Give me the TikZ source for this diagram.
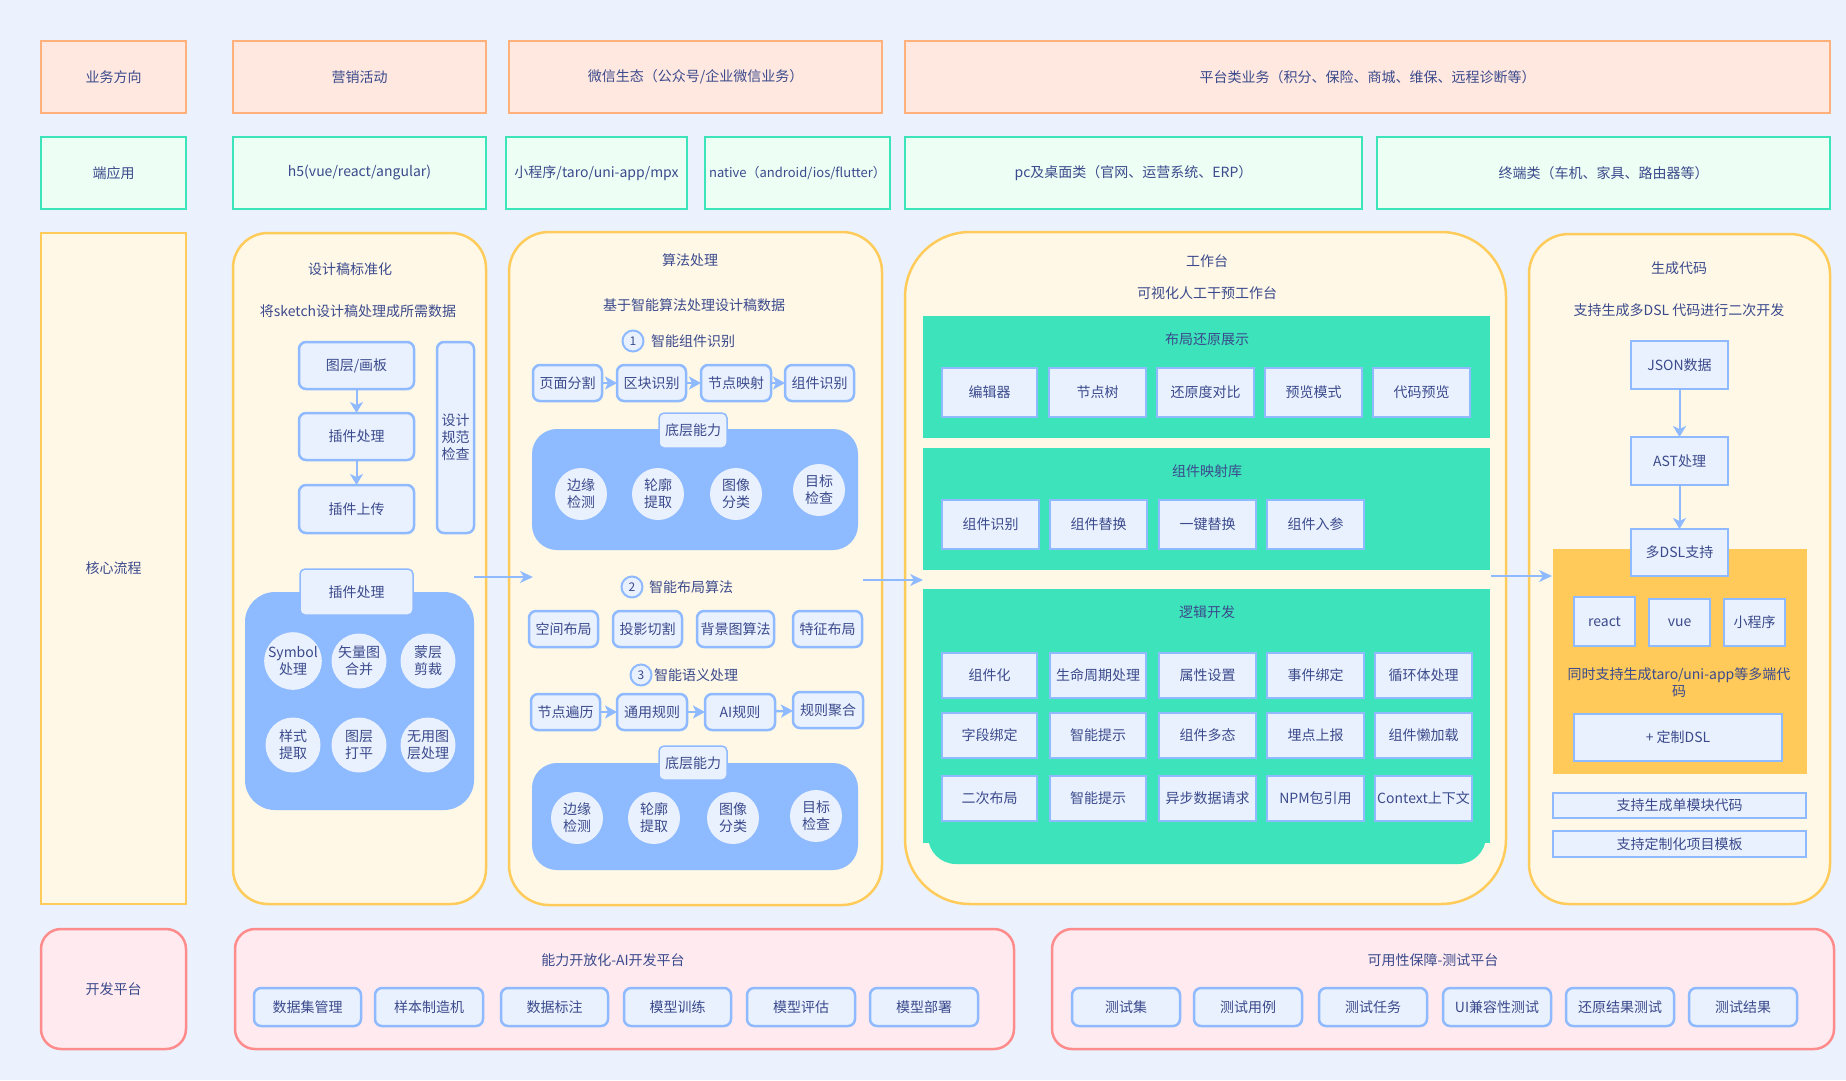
\documentclass[tikz,border=0pt]{standalone}
\usepackage{fontspec}
\setmainfont{Noto Sans CJK SC}
\usetikzlibrary{arrows.meta}
\definecolor{bg}{HTML}{EBF2FD}
\definecolor{orfill}{HTML}{FEE8E0}
\definecolor{ordraw}{HTML}{FFB07B}
\definecolor{grfill}{HTML}{EDFEF4}
\definecolor{grdraw}{HTML}{3CE4BA}
\definecolor{yefill}{HTML}{FFF8E7}
\definecolor{yedraw}{HTML}{FFCC5C}
\definecolor{blfill}{HTML}{EAF1FE}
\definecolor{bldraw}{HTML}{8FBAFF}
\definecolor{blmid}{HTML}{8EBAFF}
\definecolor{teal}{HTML}{3DE3BA}
\definecolor{orpanel}{HTML}{FFCA5A}
\definecolor{pkfill}{HTML}{FFEAEF}
\definecolor{pkdraw}{HTML}{FF8C8C}
\definecolor{txt}{HTML}{3B4A8C}
\tikzset{
  base/.style={inner sep=0pt, outer sep=0pt, text=txt, font=\fontsize{14}{17}\selectfont, align=center},
  lbl/.style={base},
  bizbox/.style={base, fill=orfill, draw=ordraw, line width=2.5pt},
  endbox/.style={base, fill=grfill, draw=grdraw, line width=2.5pt},
  corebox/.style={base, fill=yefill, draw=yedraw, line width=2.5pt},
  cont/.style={base, fill=yefill, draw=yedraw, line width=2.5pt, rounded corners=#1},
  rbox/.style={base, fill=blfill, draw=bldraw, line width=2.5pt, rounded corners=7pt},
  sbox/.style={base, fill=blfill, draw=bldraw, line width=2.5pt},
  tabbox/.style={base, fill=blfill, draw=bldraw, line width=1.5pt, rounded corners=5pt},
  bluepanel/.style={base, fill=blmid, rounded corners=#1},
  tealpanel/.style={base, fill=teal},
  orbox/.style={base, fill=orpanel},
  pinkbox/.style={base, fill=pkfill, draw=pkdraw, line width=2.5pt, rounded corners=20pt},
  dot/.style={base, circle, fill=blfill, minimum size=#1},
  numcirc/.style={base, circle, fill=blfill, draw=bldraw, line width=2pt, minimum size=21pt, font=\fontsize{12}{14}\selectfont},
  flow/.style={draw=bldraw, line width=2.5pt, -{Stealth[length=12pt,width=13pt,inset=3pt]}},
  vflow/.style={draw=bldraw, line width=2pt, -{Stealth[length=11pt,width=13pt,inset=3pt]}},
  link/.style={draw=bldraw, line width=1.6pt, -{Stealth[length=13pt,width=12pt,inset=4pt]}},
}
\newcommand\placebox[7]{\node[#2,minimum width={#5-#3},minimum height={#6-#4}] (#1) at ({(#3+#5)/2},{(#4+#6)/2}) {#7};}
\begin{document}
\begin{tikzpicture}[x=1pt,y=-1pt]
\fill[bg] (0,0) rectangle (1846,1080);
\useasboundingbox (0,0) rectangle (1846,1080);
% row 1
\placebox{biz0}{bizbox}{41}{41}{186}{113}{业务方向}
\placebox{biz1}{bizbox}{233}{41}{486}{113}{营销活动}
\placebox{biz2}{bizbox}{509}{41}{882}{113}{微信生态（公众号/企业微信业务）}
\placebox{biz3}{bizbox}{905}{41}{1830}{113}{平台类业务（积分、保险、商城、维保、远程诊断等）}
% row 2
\placebox{end0}{endbox}{41}{137}{186}{209}{端应用}
\placebox{end1}{endbox}{233}{137}{486}{209}{h5(vue/react/angular)}
\placebox{end2}{endbox}{506}{137}{687}{209}{小程序/taro/uni-app/mpx}
\placebox{end3}{endbox, font=\fontsize{13}{16}\selectfont}{705}{137}{890}{209}{native（android/ios/flutter）}
\placebox{end4}{endbox}{905}{137}{1362}{209}{pc及桌面类（官网、运营系统、ERP）}
\placebox{end5}{endbox}{1377}{137}{1830}{209}{终端类（车机、家具、路由器等）}
% row 3 containers
\placebox{core}{corebox}{41}{233}{186}{904}{核心流程}
\placebox{c1}{cont=35pt}{233}{233}{486}{904}{}
\placebox{c2}{cont=40pt}{509}{232}{882}{905}{}
\placebox{c3}{cont=65pt}{905}{232}{1506}{904}{}
\placebox{c4}{cont=40pt}{1529}{234}{1830}{904}{}
% c1
\node[lbl] (c1t) at (350,269) {设计稿标准化};
\node[lbl] (c1s) at (358,311) {将sketch设计稿处理成所需数据};
\placebox{l1}{rbox}{299}{342}{414}{389}{图层/画板}
\placebox{l2}{rbox}{299}{413}{414}{460}{插件处理}
\placebox{l3}{rbox}{299}{485}{414}{533}{插件上传}
\placebox{chk}{rbox}{437}{342}{474}{533}{设计\\规范\\检查}
\draw[vflow] (l1) -- (l2);
\draw[vflow] (l2) -- (l3);
\placebox{blue1}{bluepanel=30pt}{245}{592}{474}{810}{}
\placebox{tab1}{tabbox}{300}{569}{413}{615}{插件处理}
\node[dot=55pt] (d11) at (293,661) {Symbol\\处理};
\node[dot=55pt] (d12) at (359,661) {矢量图\\合并};
\node[dot=55pt] (d13) at (428,661) {蒙层\\剪裁};
\node[dot=55pt] (d14) at (293,745) {样式\\提取};
\node[dot=55pt] (d15) at (359,745) {图层\\打平};
\node[dot=55pt] (d16) at (428,745) {无用图\\层处理};
% c2
\node[lbl] (c2t) at (690,260) {算法处理};
\node[lbl] (c2s) at (694,305) {基于智能算法处理设计稿数据};
\node[numcirc] (n1) at (633,341) {1};
\node[lbl, anchor=west] (n1t) at (651,341) {智能组件识别};
\placebox{a1}{rbox}{533}{365}{602}{401}{页面分割}
\placebox{a2}{rbox}{617}{365}{686}{401}{区块识别}
\placebox{a3}{rbox}{701}{365}{771}{401}{节点映射}
\placebox{a4}{rbox}{785}{365}{854}{401}{组件识别}
\draw[flow] (a1) -- (a2);
\draw[flow] (a2) -- (a3);
\draw[flow] (a3) -- (a4);
\placebox{blue2}{bluepanel=25pt}{532}{429}{858}{550}{}
\placebox{tab2}{tabbox}{659}{413}{727}{448}{底层能力}
\node[dot=52pt] (d21) at (581,494) {边缘\\检测};
\node[dot=52pt] (d22) at (658,494) {轮廓\\提取};
\node[dot=52pt] (d23) at (736,494) {图像\\分类};
\node[dot=52pt] (d24) at (819,490) {目标\\检查};
\node[numcirc] (n2) at (632,587) {2};
\node[lbl, anchor=west] (n2t) at (649,587) {智能布局算法};
\placebox{b1}{rbox}{529}{611}{598}{647}{空间布局}
\placebox{b2}{rbox}{613}{611}{682}{647}{投影切割}
\placebox{b3}{rbox}{697}{611}{774}{647}{背景图算法}
\placebox{b4}{rbox}{793}{611}{862}{647}{特征布局}
\node[numcirc] (n3) at (641,675) {3};
\node[lbl, anchor=west] (n3t) at (654,675) {智能语义处理};
\placebox{s1}{rbox}{531}{694}{600}{730}{节点遍历}
\placebox{s2}{rbox}{617}{694}{687}{730}{通用规则}
\placebox{s3}{rbox}{705}{694}{775}{730}{AI规则}
\placebox{s4}{rbox}{793}{692}{863}{728}{规则聚合}
\draw[flow] (s1) -- (s2);
\draw[flow] (s2) -- (s3);
\draw[flow] (s3) -- (s4);
\placebox{blue3}{bluepanel=25pt}{532}{763}{858}{870}{}
\placebox{tab3}{tabbox}{659}{746}{727}{780}{底层能力}
\node[dot=52pt] (d31) at (577,818) {边缘\\检测};
\node[dot=52pt] (d32) at (654,818) {轮廓\\提取};
\node[dot=52pt] (d33) at (733,818) {图像\\分类};
\node[dot=52pt] (d34) at (816,816) {目标\\检查};
% c3
\node[lbl] (c3t) at (1207,261) {工作台};
\node[lbl] (c3s) at (1207,293) {可视化人工干预工作台};
\placebox{p1}{tealpanel}{923}{316}{1490}{438}{}
\node[lbl] (p1t) at (1207,339) {布局还原展示};
\placebox{e1}{sbox}{942}{368}{1037}{417}{编辑器}
\placebox{e2}{sbox}{1049}{368}{1146}{417}{节点树}
\placebox{e3}{sbox}{1157}{368}{1254}{417}{还原度对比}
\placebox{e4}{sbox}{1265}{368}{1362}{417}{预览模式}
\placebox{e5}{sbox}{1373}{368}{1470}{417}{代码预览}
\placebox{p2}{tealpanel}{923}{448}{1490}{570}{}
\node[lbl] (p2t) at (1207,471) {组件映射库};
\placebox{m1}{sbox}{942}{500}{1039}{549}{组件识别}
\placebox{m2}{sbox}{1050}{500}{1147}{549}{组件替换}
\placebox{m3}{sbox}{1159}{500}{1256}{549}{一键替换}
\placebox{m4}{sbox}{1267}{500}{1364}{549}{组件入参}
\fill[teal, rounded corners=28pt] (928,780) rectangle (1486,864);
\placebox{p3}{tealpanel}{923}{589}{1490}{843}{}
\node[lbl] (p3t) at (1207,612) {逻辑开发};
\placebox{g11}{sbox}{942}{653}{1037}{698}{组件化}
\placebox{g12}{sbox}{1050}{653}{1146}{698}{生命周期处理}
\placebox{g13}{sbox}{1159}{653}{1256}{698}{属性设置}
\placebox{g14}{sbox}{1267}{653}{1364}{698}{事件绑定}
\placebox{g15}{sbox}{1375}{653}{1472}{698}{循环体处理}
\placebox{g21}{sbox}{942}{713}{1037}{758}{字段绑定}
\placebox{g22}{sbox}{1050}{713}{1146}{758}{智能提示}
\placebox{g23}{sbox}{1159}{713}{1256}{758}{组件多态}
\placebox{g24}{sbox}{1267}{713}{1364}{758}{埋点上报}
\placebox{g25}{sbox}{1375}{713}{1472}{758}{组件懒加载}
\placebox{g31}{sbox}{942}{776}{1037}{821}{二次布局}
\placebox{g32}{sbox}{1050}{776}{1146}{821}{智能提示}
\placebox{g33}{sbox}{1159}{776}{1256}{821}{异步数据请求}
\placebox{g34}{sbox}{1267}{776}{1364}{821}{NPM包引用}
\placebox{g35}{sbox}{1375}{776}{1472}{821}{Context上下文}
% c4
\node[lbl] (c4t) at (1679,268) {生成代码};
\node[lbl] (c4s) at (1679,310) {支持生成多DSL 代码进行二次开发};
\placebox{json}{sbox}{1631}{341}{1728}{389}{JSON数据}
\placebox{ast}{sbox}{1631}{437}{1728}{485}{AST处理}
\placebox{orp}{orbox}{1553}{549}{1807}{774}{}
\placebox{dsl}{sbox}{1631}{529}{1728}{576}{多DSL支持}
\draw[vflow] (json) -- (ast);
\draw[vflow] (ast) -- (dsl);
\placebox{react}{sbox}{1574}{597}{1635}{646}{react}
\placebox{vue}{sbox}{1649}{599}{1710}{646}{vue}
\placebox{mini}{sbox}{1724}{599}{1785}{646}{小程序}
\node[lbl] (multi) at (1679,683) {同时支持生成taro/uni-app等多端代\\码};
\placebox{cdsl}{sbox}{1574}{714}{1782}{761}{+ 定制DSL}
\placebox{single}{sbox}{1553}{793}{1806}{818}{支持生成单模块代码}
\placebox{tmpl}{sbox}{1553}{831}{1806}{857}{支持定制化项目模板}
% connectors between stages
\coordinate (k1s) at (474,577);
\coordinate (k1e) at (533,577);
\coordinate (k2s) at (863,580);
\coordinate (k2e) at (923,580);
\coordinate (k3s) at (1491,576);
\coordinate (k3e) at (1552,576);
\draw[link] (k1s) -- (k1e);
\draw[link] (k2s) -- (k2e);
\draw[link] (k3s) -- (k3e);
% bottom
\placebox{dev}{pinkbox}{41}{929}{186}{1049}{开发平台}
\placebox{aip}{pinkbox}{235}{929}{1014}{1049}{}
\node[lbl] (aipt) at (613,960) {能力开放化-AI开发平台};
\placebox{q1}{rbox}{254}{988}{361}{1026}{数据集管理}
\placebox{q2}{rbox}{375}{988}{483}{1026}{样本制造机}
\placebox{q3}{rbox}{501}{988}{608}{1026}{数据标注}
\placebox{q4}{rbox}{624}{988}{731}{1026}{模型训练}
\placebox{q5}{rbox}{747}{988}{855}{1026}{模型评估}
\placebox{q6}{rbox}{870}{988}{978}{1026}{模型部署}
\placebox{tst}{pinkbox}{1052}{929}{1834}{1049}{}
\node[lbl] (tstt) at (1433,960) {可用性保障-测试平台};
\placebox{t1}{rbox}{1072}{988}{1180}{1026}{测试集}
\placebox{t2}{rbox}{1194}{988}{1302}{1026}{测试用例}
\placebox{t3}{rbox}{1319}{988}{1427}{1026}{测试任务}
\placebox{t4}{rbox}{1443}{988}{1551}{1026}{UI兼容性测试}
\placebox{t5}{rbox}{1566}{988}{1674}{1026}{还原结果测试}
\placebox{t6}{rbox}{1689}{988}{1797}{1026}{测试结果}
\end{tikzpicture}
\end{document}
